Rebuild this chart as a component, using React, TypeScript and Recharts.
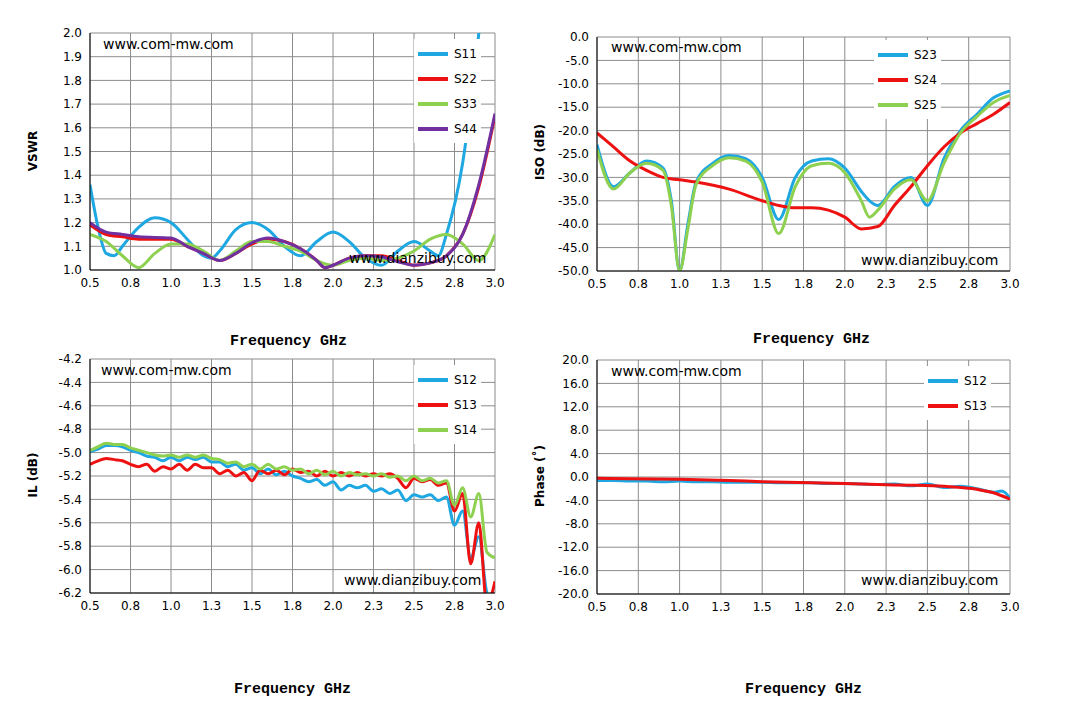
import React from "react";
import { LineChart, Line, XAxis, YAxis, CartesianGrid } from "recharts";

const freqTicks = [0.5, 0.75, 1.0, 1.25, 1.5, 1.75, 2.0, 2.25, 2.5, 2.75, 3.0];
const freqLabels = ["0.5", "0.8", "1.0", "1.3", "1.5", "1.8", "2.0", "2.3", "2.5", "2.8", "3.0"];

// VSWR
const s11X = [0.5, 0.55, 0.6, 0.65, 0.7, 0.8, 0.9, 1.0, 1.1, 1.2, 1.25, 1.3, 1.4, 1.5, 1.6, 1.7, 1.8, 1.9, 2.0, 2.1, 2.2, 2.3, 2.4, 2.5, 2.6, 2.65, 2.7, 2.8, 2.85, 2.9, 2.95];
const s11Y = [1.36, 1.18, 1.07, 1.06, 1.1, 1.18, 1.22, 1.2, 1.13, 1.06, 1.05, 1.08, 1.17, 1.2, 1.17, 1.1, 1.06, 1.12, 1.16, 1.12, 1.05, 1.02, 1.08, 1.12, 1.08, 1.06, 1.15, 1.45, 1.7, 2.0, 2.4];
const s22X = [0.5, 0.6, 0.7, 0.8, 1.0, 1.1, 1.2, 1.3, 1.4, 1.5, 1.6, 1.7, 1.8, 1.9, 1.95, 2.0, 2.1, 2.2, 2.3, 2.4, 2.5, 2.6, 2.7, 2.8, 2.9, 3.0];
const s22Y = [1.19, 1.15, 1.14, 1.13, 1.13, 1.1, 1.07, 1.04, 1.07, 1.11, 1.13, 1.12, 1.09, 1.04, 1.01, 1.02, 1.05, 1.06, 1.06, 1.04, 1.02, 1.03, 1.06, 1.15, 1.35, 1.65];
const s44Y = [1.2, 1.16, 1.15, 1.14, 1.135, 1.1, 1.07, 1.04, 1.07, 1.115, 1.135, 1.12, 1.09, 1.04, 1.01, 1.02, 1.05, 1.06, 1.055, 1.035, 1.02, 1.03, 1.06, 1.15, 1.36, 1.66];
const s33X = [0.5, 0.6, 0.7, 0.8, 0.9, 1.0, 1.1, 1.2, 1.3, 1.4, 1.5, 1.6, 1.7, 1.8, 1.9, 2.0, 2.1, 2.2, 2.3, 2.4, 2.5, 2.6, 2.7, 2.8, 2.9, 3.0];
const s33Y = [1.15, 1.12, 1.06, 1.01, 1.07, 1.11, 1.11, 1.08, 1.04, 1.08, 1.12, 1.12, 1.1, 1.08, 1.04, 1.02, 1.04, 1.05, 1.04, 1.05, 1.08, 1.13, 1.15, 1.11, 1.04, 1.15];

// ISO
const isoX = [0.5, 0.6, 0.7, 0.8, 0.9, 0.95, 1.0, 1.05, 1.1, 1.2, 1.3, 1.4, 1.5, 1.6, 1.7, 1.8, 1.9, 2.0, 2.1, 2.15, 2.2, 2.3, 2.4, 2.5, 2.6, 2.7, 2.8, 2.9, 3.0];
const s23Y = [-23, -32, -29, -26.5, -28, -35, -50, -40, -31, -27, -25.3, -26, -30, -39, -30, -26.5, -26, -28, -33, -35, -36, -32, -30, -36, -26, -20, -16.5, -13, -11.5];
const s25Y = [-24, -32.5, -29, -27, -28.5, -36, -50, -41, -31.5, -27.5, -25.8, -26.5, -31, -42, -32, -27.5, -27, -29, -35, -38.5, -37, -32.5, -30.5, -35, -27, -20.5, -17, -14, -12.5];
const s24X = [0.5, 0.6, 0.7, 0.8, 0.9, 1.0, 1.1, 1.3, 1.5, 1.6, 1.7, 1.8, 1.9, 2.0, 2.1, 2.2, 2.3, 2.4, 2.5, 2.6, 2.7, 2.8, 2.9, 3.0];
const s24Y = [-20.5, -23.5, -26.5, -28.5, -30, -30.5, -31, -32.5, -35, -36, -36.5, -36.5, -37, -38.5, -41, -40.5, -36, -32, -27.5, -23.5, -20.5, -18.5, -16.5, -14];

// IL
const ilX = [0.5, 0.55, 0.6, 0.65, 0.7, 0.75, 0.8, 0.85, 0.9, 0.95, 1.0, 1.05, 1.1, 1.15, 1.2, 1.25, 1.3, 1.35, 1.4, 1.45, 1.5, 1.55, 1.6, 1.65, 1.7, 1.75, 1.8, 1.85, 1.9, 1.95, 2.0, 2.05, 2.1, 2.15, 2.2, 2.25, 2.3, 2.35, 2.4, 2.45, 2.5, 2.55, 2.6, 2.65, 2.7, 2.75, 2.8, 2.85, 2.9, 2.95, 3.0];
const il12Y = [-4.99, -4.97, -4.94, -4.94, -4.95, -4.98, -5.0, -5.03, -5.04, -5.07, -5.04, -5.07, -5.04, -5.06, -5.04, -5.08, -5.08, -5.12, -5.1, -5.15, -5.13, -5.18, -5.14, -5.19, -5.16, -5.2, -5.22, -5.25, -5.23, -5.28, -5.25, -5.32, -5.28, -5.3, -5.28, -5.33, -5.31, -5.35, -5.32, -5.41, -5.36, -5.38, -5.36, -5.41, -5.38, -5.62, -5.5, -5.9, -5.72, -6.2, -6.3];
const il13Y = [-5.1, -5.07, -5.05, -5.06, -5.07, -5.1, -5.12, -5.1, -5.16, -5.12, -5.14, -5.1, -5.15, -5.1, -5.13, -5.13, -5.18, -5.15, -5.2, -5.17, -5.24, -5.15, -5.18, -5.15, -5.19, -5.14, -5.17, -5.16, -5.2, -5.16, -5.2, -5.17, -5.2, -5.17, -5.2, -5.18, -5.2, -5.18, -5.22, -5.3, -5.22, -5.25, -5.23, -5.28, -5.26, -5.5, -5.35, -5.95, -5.6, -6.3, -6.1];
const il14Y = [-4.98, -4.95, -4.92, -4.93, -4.93, -4.96, -4.98, -5.0, -5.02, -5.03, -5.02, -5.04, -5.02, -5.04, -5.02, -5.05, -5.06, -5.09, -5.08, -5.12, -5.1, -5.14, -5.1, -5.14, -5.12, -5.15, -5.14, -5.18, -5.15, -5.19, -5.16, -5.2, -5.17, -5.19, -5.18, -5.2, -5.18, -5.21, -5.2, -5.24, -5.2, -5.24, -5.22, -5.26, -5.24, -5.45, -5.3, -5.55, -5.35, -5.85, -5.9];

// Phase
const ph12X = [0.5, 0.6, 0.7, 0.8, 0.9, 1.0, 1.1, 1.2, 1.3, 1.4, 1.5, 1.6, 1.7, 1.8, 1.9, 2.0, 2.1, 2.2, 2.3, 2.4, 2.5, 2.6, 2.7, 2.8, 2.9, 2.95, 3.0];
const ph12Y = [-0.6, -0.6, -0.7, -0.7, -0.8, -0.7, -0.8, -0.8, -0.9, -0.9, -0.9, -1.0, -1.0, -1.0, -1.1, -1.1, -1.2, -1.3, -1.2, -1.5, -1.2, -1.8, -1.6, -2.0, -2.6, -2.4, -3.6];
const ph13X = [0.5, 0.7, 1.0, 1.3, 1.5, 1.8, 2.0, 2.2, 2.4, 2.6, 2.8, 2.9, 3.0];
const ph13Y = [-0.2, -0.3, -0.4, -0.6, -0.8, -1.0, -1.1, -1.3, -1.4, -1.6, -2.1, -2.7, -3.8];

const BLUE = "#1ea7e1";
const RED = "#ee1111";
const GREEN = "#8ed04f";
const PURPLE = "#7030a0";

const zip = (xs: number[], ys: number[]) => xs.map((x, i) => ({ x, y: ys[i] }));
const range = (a: number, b: number, s: number) => {
  const out: number[] = [];
  for (let v = a; v <= b + 1e-9; v += s) out.push(Math.round(v * 100) / 100);
  return out;
};

type Series = { name: string; color: string; pts: { x: number; y: number }[] };

const tickFont = { fontFamily: "DejaVu Sans", fontSize: 12, fill: "#000" };
const abs = (l: number, t: number): React.CSSProperties => ({ position: "absolute", left: l, top: t });

function Panel(props: {
  l: number; r: number; t: number; b: number;
  domain: [number, number]; yTicks: number[]; fmt: (v: number) => string;
  series: Series[];
}) {
  const { l, r, t, b } = props;
  const yw = 60;
  return (
    <div style={{ ...abs(0, 0), pointerEvents: "none" }}>
      <LineChart width={1073} height={719}
        margin={{ top: t, left: l - yw, right: 1073 - r, bottom: 719 - b - 25 }}>
        <CartesianGrid stroke="#8c8c8c" strokeWidth={1} horizontalValues={props.yTicks} verticalValues={freqTicks} />
        <XAxis dataKey="x" type="number" domain={[0.5, 3.0]} ticks={freqTicks} height={25}
          tickFormatter={(v: number) => freqLabels[freqTicks.indexOf(v)] ?? ""}
          tick={tickFont} stroke="#000" tickLine={false} allowDataOverflow />
        <YAxis type="number" domain={props.domain} ticks={props.yTicks} width={yw}
          tickFormatter={props.fmt} tick={tickFont} stroke="#000" tickLine={false} allowDataOverflow interval={0} />
        {props.series.map((s) => (
          <Line key={s.name} data={s.pts} dataKey="y" type="monotone" stroke={s.color} strokeWidth={3}
            dot={false} isAnimationActive={false} />
        ))}
      </LineChart>
    </div>
  );
}

function Legend(props: { x: number; y: number; gap: number; series: Series[] }) {
  return (
    <div style={{ ...abs(props.x, props.y), background: "#fff", padding: "2px 4px" }}>
      {props.series.map((s) => (
        <div key={s.name} style={{ display: "flex", alignItems: "center", height: props.gap, fontFamily: "DejaVu Sans", fontSize: 12 }}>
          <div style={{ width: 30, height: 4, background: s.color, marginRight: 6 }} />
          {s.name}
        </div>
      ))}
    </div>
  );
}

const txt = (l: number, t: number, s: string, extra: React.CSSProperties = {}) => (
  <div style={{ ...abs(l, t), fontFamily: "DejaVu Sans", fontSize: 14, whiteSpace: "nowrap", ...extra }}>{s}</div>
);
const xlab = (l: number, t: number) =>
  txt(l, t, "Frequency GHz", { fontFamily: "'Liberation Mono', 'DejaVu Sans Mono', monospace", fontWeight: "bold", fontSize: 15 });
const ylab = (cx: number, cy: number, s: string) => (
  <div style={{ position: "absolute", left: cx - 60, top: cy - 8, width: 120, textAlign: "center", transform: "rotate(-90deg)",
    fontFamily: "DejaVu Sans", fontWeight: "bold", fontSize: 12 }}>{s}</div>
);

export default function App() {
  const vswr: Series[] = [
    { name: "S11", color: BLUE, pts: zip(s11X, s11Y) },
    { name: "S22", color: RED, pts: zip(s22X, s22Y) },
    { name: "S33", color: GREEN, pts: zip(s33X, s33Y) },
    { name: "S44", color: PURPLE, pts: zip(s22X, s44Y) },
  ];
  const iso: Series[] = [
    { name: "S23", color: BLUE, pts: zip(isoX, s23Y) },
    { name: "S24", color: RED, pts: zip(s24X, s24Y) },
    { name: "S25", color: GREEN, pts: zip(isoX, s25Y) },
  ];
  const il: Series[] = [
    { name: "S12", color: BLUE, pts: zip(ilX, il12Y) },
    { name: "S13", color: RED, pts: zip(ilX, il13Y) },
    { name: "S14", color: GREEN, pts: zip(ilX, il14Y) },
  ];
  const ph: Series[] = [
    { name: "S12", color: BLUE, pts: zip(ph12X, ph12Y) },
    { name: "S13", color: RED, pts: zip(ph13X, ph13Y) },
  ];
  return (
    <div style={{ ...abs(0, 0), width: 1073, height: 719, background: "#fff" }}>
      <Panel l={90} r={495} t={33} b={270} domain={[1, 2]} yTicks={range(1, 2, 0.1)} fmt={(v) => v.toFixed(1)} series={vswr} />
      <Panel l={597} r={1010} t={37} b={271} domain={[-50, 0]} yTicks={range(-50, 0, 5)} fmt={(v) => v.toFixed(1)} series={iso} />
      <Panel l={90} r={495} t={359} b={593} domain={[-6.2, -4.2]} yTicks={range(-6.2, -4.2, 0.2)} fmt={(v) => v.toFixed(1)} series={il} />
      <Panel l={597} r={1010} t={360} b={594} domain={[-20, 20]} yTicks={range(-20, 20, 4)} fmt={(v) => v.toFixed(1)} series={ph} />

      <Legend x={414} y={39} gap={25} series={vswr} />
      <Legend x={874} y={40} gap={25} series={iso} />
      <Legend x={414} y={365} gap={25} series={il} />
      <Legend x={924} y={366} gap={25} series={ph} />

      {txt(103, 36, "www.com-mw.com")}
      {txt(611, 39, "www.com-mw.com")}
      {txt(101, 362, "www.com-mw.com")}
      {txt(611, 363, "www.com-mw.com")}
      {txt(349, 250, "www.dianzibuy.com")}
      {txt(861, 252, "www.dianzibuy.com")}
      {txt(344, 572, "www.dianzibuy.com")}
      {txt(861, 572, "www.dianzibuy.com")}

      {xlab(230, 333)}
      {xlab(753, 331)}
      {xlab(234, 681)}
      {xlab(745, 681)}
      {ylab(33, 152, "VSWR")}
      {ylab(540, 153, "ISO (dB)")}
      {ylab(33, 476, "IL (dB)")}
      {ylab(540, 477, "Phase (˚)")}
    </div>
  );
}
